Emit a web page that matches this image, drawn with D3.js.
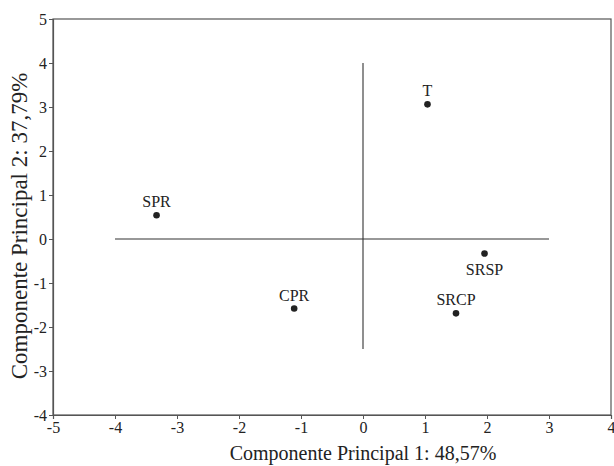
<!DOCTYPE html>
<html><head><meta charset="utf-8">
<script src="https://cdn.jsdelivr.net/npm/d3@7"></script>
<style>body{margin:0;background:#fff}</style>
</head><body>
<svg id="c" width="614" height="466"></svg>
<script>
const labels = ["T", "SPR", "CPR", "SRSP", "SRCP"];
const pc1 = [1.04, -3.33, -1.11, 1.96, 1.50];
const pc2 = [3.06, 0.54, -1.58, -0.33, -1.69];
const labelPos = ["above", "above", "above", "below", "above"];
const xTicks = [-5, -4, -3, -2, -1, 0, 1, 2, 3, 4];
const yTicks = [-4, -3, -2, -1, 0, 1, 2, 3, 4, 5];
const xTitle = "Componente Principal 1: 48,57%";
const yTitle = "Componente Principal 2: 37,79%";

const svg = d3.select("#c");
const font = "'Liberation Serif', 'Times New Roman', serif";
const L = 53, R = 611, T = 19, B = 415;
const x = d3.scaleLinear().domain([-5, 4]).range([L, R]);
const y = d3.scaleLinear().domain([-4, 5]).range([B, T]);

const axisColor = "#555";
svg.append("rect").attr("x", L).attr("y", T).attr("width", R - L).attr("height", B - T)
  .attr("fill", "none").attr("stroke", axisColor).attr("stroke-width", 1.2);

const fmt = d => String(d);
const gx = svg.append("g").attr("transform", `translate(0,${B})`)
  .call(d3.axisBottom(x).tickValues(xTicks).tickSize(4).tickPadding(3).tickFormat(fmt));
const gy = svg.append("g").attr("transform", `translate(${L},0)`)
  .call(d3.axisLeft(y).tickValues(yTicks).tickSize(4).tickPadding(2).tickFormat(fmt));
[gx, gy].forEach(g => {
  g.attr("font-family", font).attr("font-size", 16);
  g.select(".domain").attr("stroke", axisColor).attr("stroke-width", 1.2);
  g.selectAll(".tick line").attr("stroke", axisColor);
  g.selectAll("text").attr("font-family", font).attr("font-size", 16).attr("fill", "#222");
});

svg.append("line").attr("x1", x(-4)).attr("x2", x(3)).attr("y1", y(0)).attr("y2", y(0))
  .attr("stroke", "#333").attr("stroke-width", 1.1);
svg.append("line").attr("x1", x(0)).attr("x2", x(0)).attr("y1", y(4)).attr("y2", y(-2.5))
  .attr("stroke", "#333").attr("stroke-width", 1.1);

const data = labels.map((l, i) => ({l, a: pc1[i], b: pc2[i], p: labelPos[i]}));
svg.selectAll("circle.pt").data(data).join("circle")
  .attr("cx", d => x(d.a)).attr("cy", d => y(d.b)).attr("r", 3.3).attr("fill", "#222");
svg.selectAll("text.lb").data(data).join("text")
  .attr("x", d => x(d.a)).attr("y", d => d.p === "above" ? y(d.b) - 8 : y(d.b) + 21)
  .attr("text-anchor", "middle").attr("font-family", font).attr("font-size", 16).attr("fill", "#222")
  .text(d => d.l);

svg.append("text").attr("x", x(0)).attr("y", 460).attr("text-anchor", "middle")
  .attr("font-family", font).attr("font-size", 20).attr("fill", "#222").text(xTitle);
svg.append("text").attr("transform", `translate(27,226) rotate(-90)`).attr("text-anchor", "middle")
  .attr("font-family", font).attr("font-size", 23).attr("fill", "#222").text(yTitle);
</script>
</body></html>
